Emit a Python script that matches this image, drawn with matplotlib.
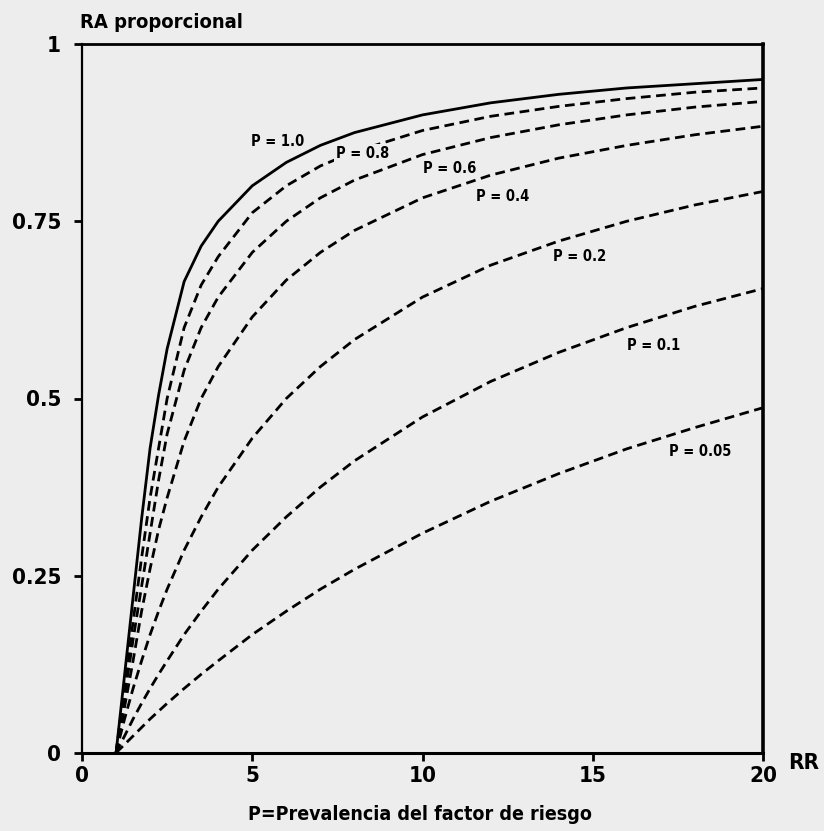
import matplotlib.pyplot as plt

# riesgo relativo (eje x) y RA proporcional leida para cada prevalencia
rr = [1, 1.1, 1.25, 1.5, 1.75, 2, 2.25, 2.5, 3, 3.5, 4, 5, 6, 7, 8, 10, 12, 14, 16, 18, 20]
ra_p100 = [0, .044, .110, .220, .330, .430, .505, .570, .665, .715, .750, .800, .833, .857, .875, .900, .917, .929, .938, .944, .950]
ra_p080 = [0, .038, .093, .185, .275, .360, .430, .500, .600, .660, .700, .762, .800, .828, .848, .878, .898, .912, .923, .932, .938]
ra_p060 = [0, .033, .080, .160, .235, .310, .385, .450, .540, .600, .643, .706, .750, .783, .808, .844, .868, .886, .900, .911, .919]
ra_p040 = [0, .025, .065, .130, .200, .260, .315, .360, .440, .500, .545, .615, .667, .706, .737, .783, .815, .839, .857, .872, .884]
ra_p020 = [0, .020, .048, .091, .130, .167, .200, .231, .286, .333, .375, .444, .500, .545, .583, .643, .688, .722, .750, .773, .792]
ra_p010 = [0, .010, .024, .048, .070, .091, .111, .130, .167, .200, .231, .286, .333, .375, .412, .474, .524, .565, .600, .630, .655]
ra_p005 = [0, .005, .012, .024, .036, .048, .059, .070, .091, .111, .130, .167, .200, .231, .259, .310, .355, .394, .429, .459, .487]

etiquetas = ["P = 1.0", "P = 0.8", "P = 0.6", "P = 0.4", "P = 0.2", "P = 0.1", "P = 0.05"]
# posicion de cada etiqueta (rr, ra)
etiq_x = [5.75, 8.25, 10.8, 12.35, 14.6, 16.8, 18.15]
etiq_y = [0.862, 0.845, 0.825, 0.785, 0.70, 0.575, 0.425]

fuente = ['Liberation Sans Narrow', 'DejaVu Sans']
estrecho = 'condensed'
fondo = '#ededed'

fig = plt.figure(figsize=(8.24, 8.31), dpi=100, facecolor=fondo)
ax = fig.add_axes([82/824, 1-753/831, (763-82)/824, (753-44)/831])
ax.set_facecolor(fondo)

ax.plot(rr, ra_p100, color='black', lw=2, solid_capstyle='round')
for serie in [ra_p080, ra_p060, ra_p040, ra_p020, ra_p010, ra_p005]:
    ax.plot(rr, serie, color='black', lw=2, linestyle=(0, (3.5, 2)))

for txt, x, y in zip(etiquetas, etiq_x, etiq_y):
    ax.text(x, y, txt, family=fuente, fontweight='bold', fontsize=10.5,
            fontstretch=estrecho, ha='center', va='center', zorder=5,
            bbox=dict(facecolor=fondo, edgecolor='none', pad=1.5))

ax.set_xlim(0, 20)
ax.set_ylim(0, 1)
ax.set_xticks([0, 5, 10, 15, 20])
ax.set_xticklabels(['0', '5', '10', '15', '20'])
ax.set_yticks([0, 0.25, 0.5, 0.75, 1])
ax.set_yticklabels(['0', '0.25', '0.5', '0.75', '1'])
ax.tick_params(direction='out', length=6, width=2, labelsize=16)
ax.tick_params(axis='x', pad=3)
ax.tick_params(axis='y', pad=9)
for lab in ax.get_xticklabels() + ax.get_yticklabels():
    lab.set_family(fuente)
    lab.set_fontweight('bold')
    lab.set_fontstretch(estrecho)
ax.spines['left'].set_linewidth(1.6)
ax.spines['bottom'].set_linewidth(2.2)
ax.spines['top'].set_linewidth(2)
ax.spines['right'].set_linewidth(2.6)

fig.text(80/824, 1-23/831, "RA proporcional", family=fuente, fontweight='bold',
         fontstretch=estrecho, fontsize=14.5, ha='left', va='center')
fig.text(804/824, 1-763/831, "RR", family=fuente, fontweight='bold',
         fontstretch=estrecho, fontsize=16, ha='center', va='center')
fig.text(420/824, 1-815/831, "P=Prevalencia del factor de riesgo", family=fuente,
         fontweight='bold', fontstretch=estrecho, fontsize=14, ha='center', va='center')

fig.savefig('out.png', dpi=100, facecolor=fondo)
